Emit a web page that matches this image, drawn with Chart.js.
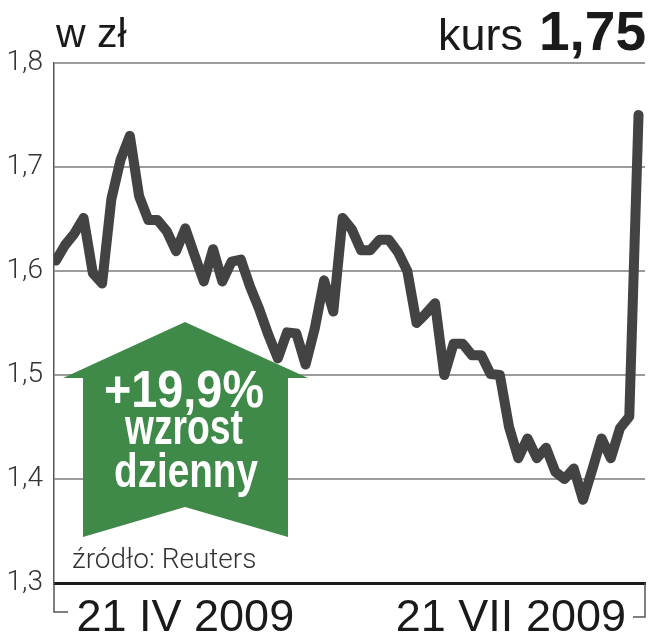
<!DOCTYPE html>
<html>
<head>
<meta charset="utf-8">
<script src="https://cdn.jsdelivr.net/npm/chart.js@4"></script>
<style>
  html, body { margin: 0; padding: 0; background: #fff; }
  #wrap { width: 651px; height: 640px; }
</style>
</head>
<body>
<div id="wrap"><canvas id="kursChart" width="651" height="640"></canvas></div>
<script>
// notowania (kolejne sesje)
const kurs = [
  1.61, 1.625, 1.636, 1.651, 1.598, 1.588, 1.669, 1.707, 1.73, 1.672,
  1.649, 1.649, 1.638, 1.619, 1.641, 1.615, 1.59, 1.621, 1.59, 1.609,
  1.611, 1.585, 1.563, 1.538, 1.516, 1.541, 1.54, 1.51, 1.545, 1.591,
  1.561, 1.651, 1.64, 1.62, 1.62, 1.63, 1.63, 1.618, 1.6, 1.55,
  1.559, 1.569, 1.5, 1.53, 1.53, 1.519, 1.519, 1.501, 1.5, 1.45,
  1.42, 1.439, 1.42, 1.43, 1.407, 1.4, 1.41, 1.38, 1.409, 1.439,
  1.42, 1.449, 1.46, 1.75
];
const sesje = kurs.map(function (v, i) { return i; });
const xTickPos = [14, 49.2];
const xTickLabels = ["21 IV 2009", "21 VII 2009"];
const yMin = 1.3;
const yMax = 1.8;

const tytul = "w zł";
const kursLabel = "kurs";
const kursValue = "1,75";
const zrodlo = "źródło: Reuters";
const arrowLines = ["+19,9%", "wzrost", "dzienny"];

const punkty = sesje.map(function (s, i) { return { x: s, y: kurs[i] }; });

function fitText(ctx, text, cx, baseline, size, targetW) {
  ctx.font = "bold " + size + "px 'Liberation Sans', Arial, sans-serif";
  var w = ctx.measureText(text).width;
  var sx = targetW / w;
  ctx.save();
  ctx.translate(cx, baseline);
  ctx.scale(sx, 1);
  ctx.textAlign = "center";
  ctx.textBaseline = "alphabetic";
  ctx.fillText(text, 0, 0);
  ctx.restore();
}

const decor = {
  id: "decor",
  beforeDatasetsDraw: function (chart) {
    const ctx = chart.ctx;
    // zielona strzalka
    ctx.save();
    ctx.fillStyle = "#3f8a49";
    ctx.beginPath();
    ctx.moveTo(185, 322);
    ctx.lineTo(308, 378);
    ctx.lineTo(288, 378);
    ctx.lineTo(288, 537);
    ctx.lineTo(185, 507);
    ctx.lineTo(83, 537);
    ctx.lineTo(83, 378);
    ctx.lineTo(63, 378);
    ctx.closePath();
    ctx.fill();
    ctx.fillStyle = "#ffffff";
    fitText(ctx, arrowLines[0], 184, 407, 51, 160);
    fitText(ctx, arrowLines[1], 184, 444, 50, 118);
    fitText(ctx, arrowLines[2], 186, 487, 48, 144);
    ctx.restore();
  },
  afterDraw: function (chart) {
    const ctx = chart.ctx;
    const area = chart.chartArea;
    ctx.save();
    ctx.fillStyle = "#1a1a1a";
    ctx.textBaseline = "alphabetic";
    ctx.textAlign = "left";
    ctx.font = "41px 'Liberation Sans', Arial, sans-serif";
    ctx.fillText(tytul, 56, 47);

    ctx.textAlign = "right";
    ctx.font = "bold 55px 'Liberation Sans', Arial, sans-serif";
    ctx.fillText(kursValue, 646, 50);
    var vw = ctx.measureText(kursValue).width;
    ctx.font = "45px 'Liberation Sans', Arial, sans-serif";
    ctx.fillText(kursLabel, 646 - vw - 16, 50);

    ctx.textAlign = "left";
    ctx.fillStyle = "#333";
    ctx.font = "300 28px Roboto, 'Liberation Sans', sans-serif";
    ctx.fillText(zrodlo, 72, 568);

    // klamry pod osia
    ctx.strokeStyle = "#555";
    ctx.lineWidth = 1.5;
    ctx.beginPath();
    ctx.moveTo(area.left, area.bottom);
    ctx.lineTo(area.left, 612);
    ctx.lineTo(68, 612);
    ctx.moveTo(area.right, area.bottom);
    ctx.lineTo(area.right, 617);
    ctx.lineTo(633, 617);
    ctx.stroke();
    ctx.restore();
  }
};

new Chart(document.getElementById("kursChart"), {
  type: "line",
  data: {
    datasets: [{
      data: punkty,
      borderColor: "#434343",
      borderWidth: 10,
      borderJoinStyle: "round",
      borderCapStyle: "round",
      pointRadius: 0,
      tension: 0,
      fill: false
    }]
  },
  options: {
    responsive: false,
    animation: false,
    layout: { padding: { top: 63, right: 6, left: 0, bottom: 0 } },
    plugins: {
      legend: { display: false },
      tooltip: { enabled: false }
    },
    scales: {
      x: {
        type: "linear",
        min: -0.2,
        max: 63.7,
        afterFit: function (scale) { scale.height = 57; },
        afterBuildTicks: function (scale) {
          scale.ticks = xTickPos.map(function (v) { return { value: v }; });
        },
        ticks: {
          autoSkip: false,
          maxRotation: 0,
          padding: 9,
          color: "#1a1a1a",
          font: { family: "'Liberation Sans', Arial, sans-serif", size: 45 },
          callback: function (value, index) { return xTickLabels[index]; }
        },
        grid: { display: false, drawTicks: false },
        border: { display: true, color: "#1a1a1a", width: 3 }
      },
      y: {
        min: yMin,
        max: yMax,
        afterFit: function (scale) { scale.width = 54; },
        ticks: {
          stepSize: 0.1,
          padding: 11,
          color: "#333",
          font: { family: "Roboto, 'Liberation Sans', sans-serif", size: 28, weight: 300 },
          callback: function (value) { return value.toFixed(1).replace(".", ","); }
        },
        grid: { color: "#9c9c9c", lineWidth: 2, drawTicks: false },
        border: { display: true, color: "#555", width: 1.5 }
      }
    }
  },
  plugins: [decor]
});
</script>
</body>
</html>
